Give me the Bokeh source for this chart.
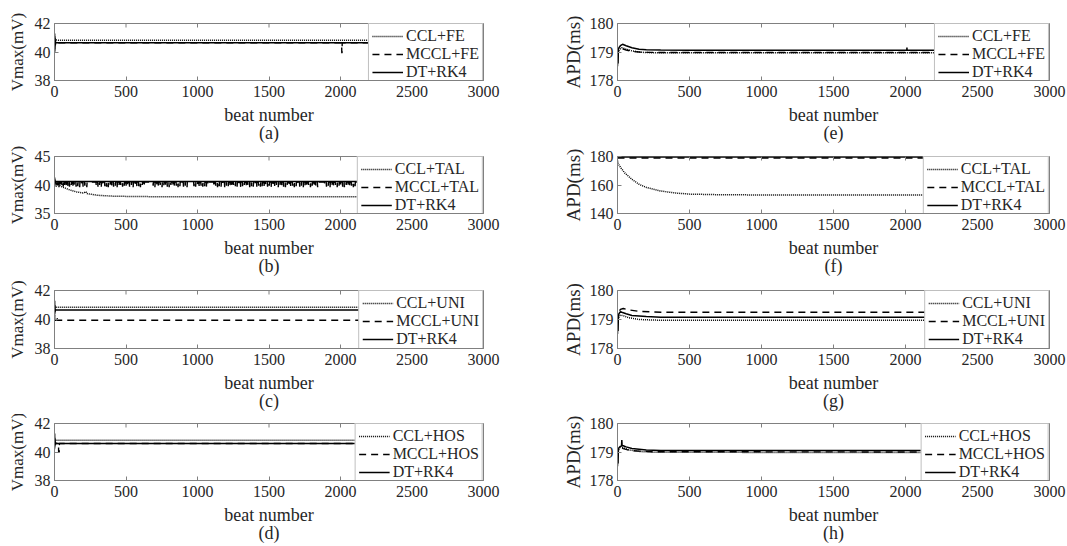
from bokeh.plotting import figure
from bokeh.layouts import row, column
from bokeh.models import Legend, LegendItem, Range1d, FixedTicker
from bokeh.embed import file_html
from bokeh.resources import INLINE

FONT = "Liberation Serif"

x_ticks = [0, 500, 1000, 1500, 2000, 2500, 3000]
x_label = "beat number"

# ---------------- (a) Vmax, FE ----------------
a_ccl_beats = [0, 2, 5, 10, 30, 2200]
a_ccl_vals = [40.8, 40.95, 40.9, 40.85, 40.82, 40.82]
a_mccl_beats = [0, 1, 2, 4, 8, 2008, 2009, 2011, 2012, 2200]
a_mccl_vals = [40.6, 39.9, 40.6, 40.65, 40.65, 40.65, 39.95, 39.95, 40.65, 40.65]
a_dt_beats = [0, 1, 2, 3, 4, 5, 6, 8, 12, 2200]
a_dt_vals = [40.0, 41.3, 40.2, 41.1, 40.4, 40.9, 40.5, 40.7, 40.65, 40.65]

# ---------------- (b) Vmax, TAL ----------------
b_ccl_beats = [0, 20, 50, 100, 150, 200, 220, 225, 250, 300, 400, 500, 700, 1000, 2200]
b_ccl_vals = [40.5, 40.2, 39.7, 39.2, 38.8, 38.6, 38.8, 38.5, 38.4, 38.2, 38.05, 38.0, 37.95, 37.95, 37.95]
b_mccl_base = 40.5
b_mccl_dip_beats = [12, 22, 31, 40, 52, 61, 70, 83, 94, 105, 117, 128, 139, 151, 163, 176, 188, 200,
                    212, 226, 292, 304, 315, 327, 339, 352, 364, 376, 389, 401, 413, 426, 438, 451,
                    463, 476, 488, 500, 513, 525, 538, 550, 563, 576, 589, 601, 614, 627, 690, 702,
                    714, 727, 739, 752, 764, 777, 789, 802, 814, 827, 839, 852, 864, 877, 889, 902,
                    914, 927, 975, 987, 1000, 1012, 1025, 1037, 1050, 1062, 1075, 1115, 1127, 1140,
                    1152, 1165, 1177, 1190, 1202, 1215, 1227, 1240, 1252, 1265, 1277, 1290, 1302,
                    1315, 1327, 1340, 1352, 1365, 1377, 1390, 1402, 1415, 1427, 1440, 1452, 1465,
                    1477, 1490, 1502, 1515, 1527, 1540, 1552, 1565, 1577, 1590, 1602, 1615, 1627,
                    1640, 1652, 1665, 1677, 1690, 1702, 1715, 1727, 1740, 1752, 1765, 1777, 1790,
                    1802, 1815, 1827, 1840, 1890, 1902, 1915, 1927, 1940, 1952, 1965, 1977, 1990,
                    2002, 2015, 2027, 2040, 2052, 2065, 2077, 2090, 2102, 2115, 2127, 2140]
b_mccl_dip_vals = [39.7, 39.9, 39.6, 39.8, 40.0, 39.7, 39.9, 39.6, 39.8, 39.7, 40.0, 39.6, 39.9, 39.7,
                   39.8, 39.6, 40.0, 39.7, 39.9, 39.6, 39.8, 39.7, 40.0, 39.6, 39.9, 39.8, 39.7, 39.6,
                   40.0, 39.8, 39.7, 39.9, 39.6, 39.8, 40.0, 39.7, 39.9, 39.6, 39.8, 39.7, 40.0, 39.6,
                   39.9, 39.7, 39.8, 39.6, 40.0, 39.7, 39.9, 39.6, 39.8, 39.7, 40.0, 39.6, 39.9, 39.8,
                   39.7, 39.6, 40.0, 39.8, 39.7, 39.9, 39.6, 39.8, 40.0, 39.7, 39.9, 39.6, 39.8, 39.7,
                   40.0, 39.6, 39.9, 39.7, 39.8, 39.6, 40.0, 39.7, 39.9, 39.6, 39.8, 39.7, 40.0, 39.6,
                   39.9, 39.8, 39.7, 39.6, 40.0, 39.8, 39.7, 39.9, 39.6, 39.8, 40.0, 39.7, 39.9, 39.6,
                   39.8, 39.7, 40.0, 39.6, 39.9, 39.7, 39.8, 39.6, 40.0, 39.7, 39.9, 39.6, 39.8, 39.7,
                   40.0, 39.6, 39.9, 39.8, 39.7, 39.6, 40.0, 39.8, 39.7, 39.9, 39.6, 39.8, 40.0, 39.7,
                   39.9, 39.6, 39.8, 39.7, 40.0, 39.6, 39.9, 39.7, 39.8, 39.6, 40.0, 39.7, 39.9, 39.6,
                   39.8, 39.7, 40.0, 39.6, 39.9, 39.8, 39.7, 39.6, 40.0, 39.8, 39.7, 39.9, 39.6, 39.8,
                   40.0, 39.7, 39.9]
b_dt_beats = [0, 1, 2, 3, 5, 8, 2200]
b_dt_vals = [40.0, 41.3, 40.3, 41.0, 40.6, 40.6, 40.6]

# ---------------- (c) Vmax, UNI ----------------
c_ccl_beats = [0, 3, 10, 2200]
c_ccl_vals = [40.7, 40.9, 40.85, 40.85]
c_mccl_beats = [0, 2, 4, 12, 14, 18, 20, 2200]
c_mccl_vals = [40.3, 40.0, 39.95, 39.95, 40.2, 40.2, 39.95, 39.95]
c_dt_beats = [0, 1, 2, 3, 4, 6, 10, 2200]
c_dt_vals = [40.2, 41.3, 40.4, 41.0, 40.5, 40.7, 40.65, 40.65]

# ---------------- (d) Vmax, HOS ----------------
d_ccl_beats = [0, 3, 10, 2200]
d_ccl_vals = [40.7, 40.9, 40.82, 40.82]
d_mccl_beats = [0, 2, 5, 28, 29, 33, 34, 2200]
d_mccl_vals = [40.3, 40.6, 40.6, 40.6, 40.0, 40.0, 40.6, 40.6]
d_dt_beats = [0, 1, 2, 3, 4, 6, 10, 2200]
d_dt_vals = [40.2, 41.3, 40.4, 41.0, 40.5, 40.7, 40.6, 40.6]

# ---------------- (e) APD, FE ----------------
e_ccl_beats = [0, 5, 15, 30, 60, 100, 150, 200, 300, 2200]
e_ccl_vals = [178.7, 179.0, 179.1, 179.15, 179.1, 179.04, 179.0, 178.98, 178.97, 178.97]
e_mccl_beats = [0, 5, 15, 30, 60, 100, 150, 200, 300, 2200]
e_mccl_vals = [178.8, 179.0, 179.1, 179.12, 179.07, 179.02, 179.0, 178.99, 178.98, 178.98]
e_dt_beats = [0, 2, 4, 6, 10, 20, 35, 60, 100, 150, 200, 300, 500, 2009, 2010, 2011, 2200]
e_dt_vals = [178.5, 179.0, 178.6, 179.1, 179.15, 179.22, 179.27, 179.22, 179.15, 179.1, 179.08,
             179.07, 179.06, 179.06, 179.16, 179.06, 179.06]

# ---------------- (f) APD, TAL ----------------
f_ccl_beats = [0, 5, 20, 50, 100, 150, 200, 300, 400, 500, 700, 1000, 2200]
f_ccl_vals = [177.0, 175.0, 172.5, 168.5, 164.0, 160.5, 158.3, 155.8, 154.4, 153.6, 153.2, 153.0, 153.0]
f_mccl_beats = [0, 2200]
f_mccl_vals = [179.0, 179.0]
f_dt_beats = [0, 2200]
f_dt_vals = [179.6, 179.6]

# ---------------- (g) APD, UNI ----------------
g_ccl_beats = [0, 5, 20, 40, 80, 150, 250, 400, 2200]
g_ccl_vals = [178.8, 179.05, 179.15, 179.13, 179.06, 179.0, 178.98, 178.97, 178.97]
g_mccl_beats = [0, 5, 20, 40, 80, 150, 300, 2200]
g_mccl_vals = [178.9, 179.2, 179.35, 179.38, 179.33, 179.28, 179.25, 179.25]
g_dt_beats = [0, 2, 4, 6, 10, 20, 30, 60, 100, 200, 300, 2200]
g_dt_vals = [178.5, 179.0, 178.6, 179.1, 179.2, 179.27, 179.25, 179.2, 179.14, 179.1, 179.08, 179.08]

# ---------------- (h) APD, HOS ----------------
h_ccl_beats = [0, 5, 20, 40, 80, 150, 250, 2200]
h_ccl_vals = [178.8, 179.05, 179.2, 179.15, 179.07, 179.02, 178.99, 178.98]
h_mccl_beats = [0, 5, 20, 40, 80, 150, 250, 2200]
h_mccl_vals = [178.85, 179.1, 179.17, 179.12, 179.06, 179.03, 179.01, 179.0]
h_dt_beats = [0, 2, 4, 6, 10, 20, 28, 30, 32, 40, 60, 100, 200, 300, 2200]
h_dt_vals = [178.5, 179.0, 178.6, 179.1, 179.15, 179.2, 179.22, 179.42, 179.22, 179.22, 179.18,
             179.12, 179.07, 179.05, 179.05]

# build MCCL+TAL series from its base level and the listed dips
b_mccl_beats = [0]
b_mccl_vals = [40.3]
for bt, v in zip(b_mccl_dip_beats, b_mccl_dip_vals):
    b_mccl_beats += [bt - 2, bt, bt + 2]
    b_mccl_vals += [b_mccl_base, v, b_mccl_base]
b_mccl_beats.append(2200)
b_mccl_vals.append(b_mccl_base)

panels = {
    "a": dict(ylabel="Vmax(mV)", yr=(38, 42), yt=[38, 40, 42], method="FE",
              s=[(a_ccl_beats, a_ccl_vals), (a_mccl_beats, a_mccl_vals), (a_dt_beats, a_dt_vals)]),
    "b": dict(ylabel="Vmax(mV)", yr=(35, 45), yt=[35, 40, 45], method="TAL",
              s=[(b_ccl_beats, b_ccl_vals), (b_mccl_beats, b_mccl_vals), (b_dt_beats, b_dt_vals)]),
    "c": dict(ylabel="Vmax(mV)", yr=(38, 42), yt=[38, 40, 42], method="UNI",
              s=[(c_ccl_beats, c_ccl_vals), (c_mccl_beats, c_mccl_vals), (c_dt_beats, c_dt_vals)]),
    "d": dict(ylabel="Vmax(mV)", yr=(38, 42), yt=[38, 40, 42], method="HOS",
              s=[(d_ccl_beats, d_ccl_vals), (d_mccl_beats, d_mccl_vals), (d_dt_beats, d_dt_vals)]),
    "e": dict(ylabel="APD(ms)", yr=(178, 180), yt=[178, 179, 180], method="FE",
              s=[(e_ccl_beats, e_ccl_vals), (e_mccl_beats, e_mccl_vals), (e_dt_beats, e_dt_vals)]),
    "f": dict(ylabel="APD(ms)", yr=(140, 180), yt=[140, 160, 180], method="TAL",
              s=[(f_ccl_beats, f_ccl_vals), (f_mccl_beats, f_mccl_vals), (f_dt_beats, f_dt_vals)]),
    "g": dict(ylabel="APD(ms)", yr=(178, 180), yt=[178, 179, 180], method="UNI",
              s=[(g_ccl_beats, g_ccl_vals), (g_mccl_beats, g_mccl_vals), (g_dt_beats, g_dt_vals)]),
    "h": dict(ylabel="APD(ms)", yr=(178, 180), yt=[178, 179, 180], method="HOS",
              s=[(h_ccl_beats, h_ccl_vals), (h_mccl_beats, h_mccl_vals), (h_dt_beats, h_dt_vals)]),
}

# layout (pixels); the Bokeh page template has no body margin
ROW_TOP = [23, 10, 11, 9]
ROW_FRAME = [57, 57, 58, 57]
ROW_BOTTOM = [66, 66, 66, 65]
TICK_LEN = 4
STYLES = [dict(line_dash="1 1", line_width=1.5),
          dict(line_dash="7 5", line_width=1.4),
          dict(line_dash="solid", line_width=1.5)]
AXIS_COL = "#808080"
TEXT_COL = "#262626"


def make_panel(key, ri, left):
    cfg = panels[key]
    if left:
        bl, fw, br, ylab_size, ylab_off = 54, 429, 74, "17px", 5
    else:
        bl, fw, br, ylab_size, ylab_off = 60, 432, 17, "19px", 3
    fh = ROW_FRAME[ri]
    p = figure(frame_width=fw, frame_height=fh, min_border_left=bl, min_border_right=br,
               min_border_top=ROW_TOP[ri], min_border_bottom=ROW_BOTTOM[ri],
               x_range=Range1d(0, 3000), y_range=Range1d(*cfg["yr"]),
               output_backend="svg", toolbar_location=None, background_fill_color="white",
               border_fill_color="white", outline_line_color=AXIS_COL, outline_line_width=1)
    p.grid.visible = False
    names = ["CCL+" + cfg["method"], "MCCL+" + cfg["method"], "DT+RK4"]
    items = []
    for (bx, vy), st, nm in zip(cfg["s"], STYLES, names):
        r = p.line(bx, vy, line_color="black", **st)
        items.append(LegendItem(label=nm, renderers=[r]))
    # tick marks along the top edge of the box (MATLAB "box on" style)
    y0, y1 = cfg["yr"]
    tick_d = TICK_LEN * (y1 - y0) / fh
    p.segment(x0=x_ticks, y0=[y1] * len(x_ticks), x1=x_ticks, y1=[y1 - tick_d] * len(x_ticks),
              line_color=AXIS_COL, line_width=1)
    for ax in (p.xaxis[0], p.yaxis[0]):
        ax.axis_line_color = AXIS_COL
        ax.major_tick_line_color = AXIS_COL
        ax.minor_tick_line_color = None
        ax.major_tick_in = TICK_LEN
        ax.major_tick_out = 0
        ax.major_label_text_font = FONT
        ax.major_label_text_font_size = "16px"
        ax.major_label_text_color = TEXT_COL
        ax.axis_label_text_font = FONT
        ax.axis_label_text_font_style = "normal"
        ax.axis_label_text_color = TEXT_COL
    p.xaxis.ticker = FixedTicker(ticks=x_ticks)
    p.yaxis.ticker = FixedTicker(ticks=cfg["yt"])
    p.xaxis.major_label_standoff = 5
    p.yaxis.major_label_standoff = 4
    p.xaxis.axis_label = x_label + "\n(" + key + ")"
    p.xaxis.axis_label_text_font_size = "18px"
    p.xaxis.axis_label_text_line_height = 0.9
    p.xaxis.axis_label_standoff = 5
    p.yaxis.axis_label = cfg["ylabel"]
    p.yaxis.axis_label_text_font_size = ylab_size
    p.yaxis.axis_label_standoff = ylab_off
    leg = Legend(items=items, location="top_right", orientation="vertical",
                 label_text_font=FONT, label_text_font_size="16px", label_text_color=TEXT_COL,
                 label_height=18, glyph_height=18, glyph_width=31, label_standoff=3,
                 spacing=0, padding=3, margin=0, border_line_color=AXIS_COL,
                 border_line_width=1, background_fill_color="white", background_fill_alpha=1.0)
    p.add_layout(leg)
    return p


left_col = column([make_panel(k, i, True) for i, k in enumerate("abcd")], spacing=0)
right_col = column([make_panel(k, i, False) for i, k in enumerate("efgh")], spacing=0)
layout = row([left_col, right_col], spacing=0)

open("out.html", "w").write(file_html(layout, INLINE))
